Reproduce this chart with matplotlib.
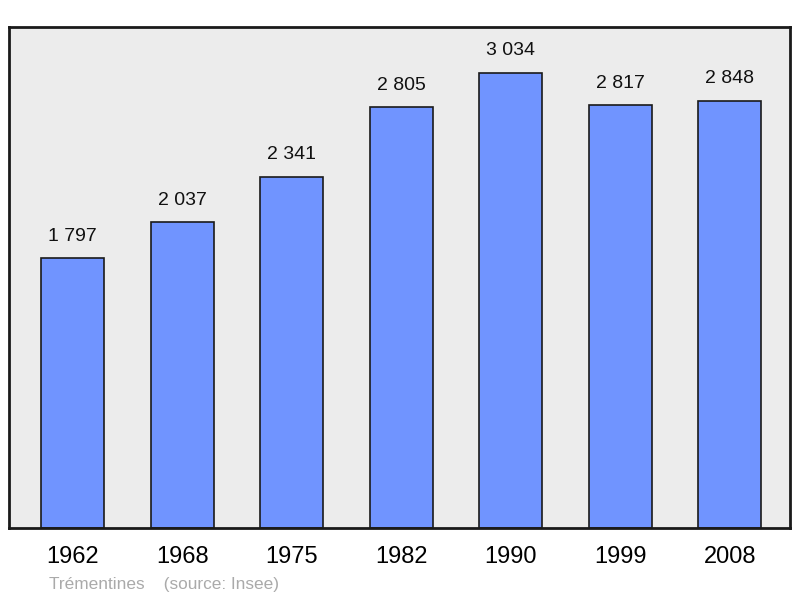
import matplotlib.pyplot as plt
import numpy as np

annees = ['1962', '1968', '1975', '1982', '1990', '1999', '2008']
population = [1797, 2037, 2341, 2805, 3034, 2817, 2848]

plt.rcParams['font.family'] = ['Liberation Sans', 'DejaVu Sans']

fig = plt.figure(figsize=(8, 5.98), dpi=100)
ax = fig.add_axes([9/800, 70/598, 781/800, 501/598])
ax.set_facecolor('#ececec')

x = np.arange(len(annees))
ax.bar(x, population, width=0.575, color='#7094ff', edgecolor='#1a1a1a', linewidth=1.2, zorder=2)

for xi, v in zip(x, population):
    txt = f'{v:,}'.replace(',', ' ')
    ax.annotate(txt, (xi, v), xytext=(0, 16), textcoords='offset points',
                ha='center', va='center', fontsize=14, color='#111111')

ax.set_xlim(-0.58, 6.55)
ax.set_ylim(0, 3340)
ax.set_xticks(x)
ax.set_xticklabels(annees, fontsize=17)
ax.set_yticks([])
ax.tick_params(axis='x', length=0, pad=13)
for s in ax.spines.values():
    s.set_linewidth(2)
    s.set_color('#1a1a1a')

fig.text(49/800, 14/598, 'Trémentines    (source: Insee)', fontsize=12.4,
         color='#aaaaaa', va='center', ha='left')

fig.savefig('out.png', dpi=100)
